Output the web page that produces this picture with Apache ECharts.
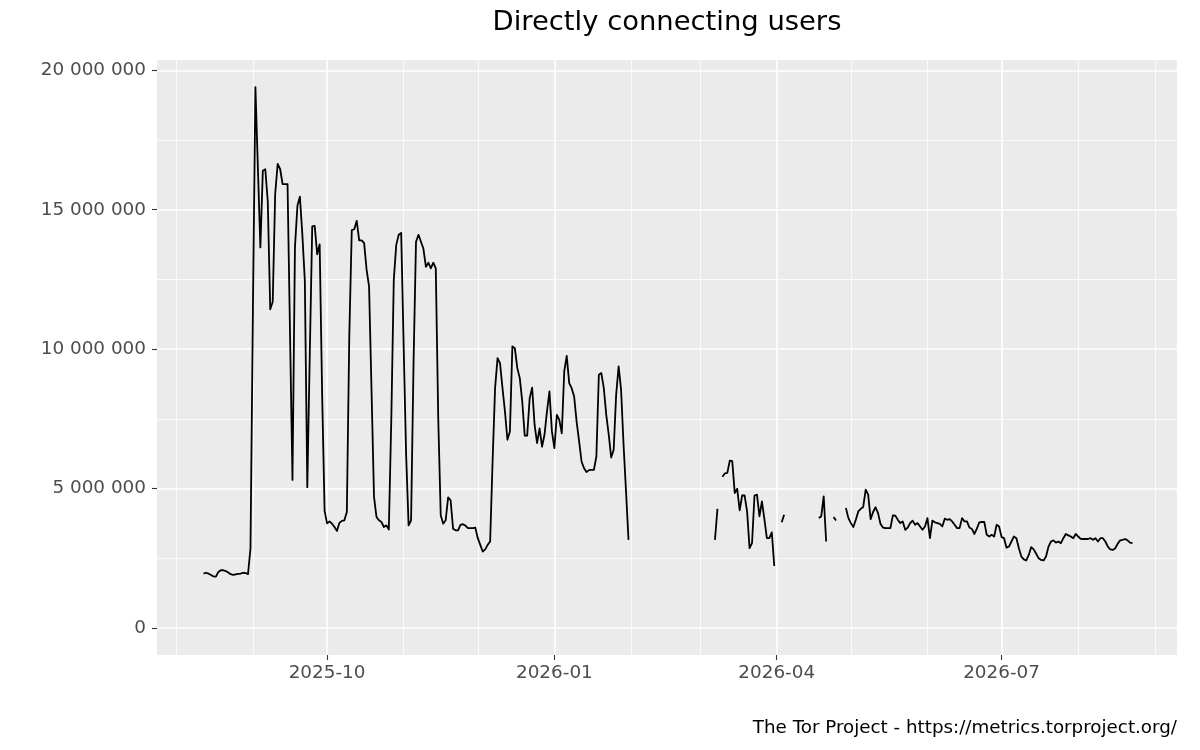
<!DOCTYPE html>
<html lang="en">
<head>
  <meta charset="UTF-8">
  <title>Directly connecting users</title>
  <style>
    html, body { margin: 0; padding: 0; background: #fff; }
    #main { width: 1200px; height: 750px; }
  </style>
</head>
<body>
  <div id="main"></div>
  <script src="https://cdn.jsdelivr.net/npm/echarts@6.0.0/dist/echarts.min.js"></script>
  <script>
    // daily users, in millions, one array per month (null = no data)
    const aug2025 = [1.95, 1.98, 1.95, 1.9, 1.85, 1.84, 2.01, 2.07, 2.07, 2.04, 1.99, 1.93, 1.9, 1.92, 1.94, 1.95, 1.98, 1.97, 1.93, 2.85]; // from the 12th
    const sep2025 = [11.5, 19.4, 16.5, 13.65, 16.4, 16.45, 15.3, 11.43, 11.7, 15.56, 16.64, 16.46, 15.92, 15.92, 15.92, 10.6, 5.31, 13.65, 15.14, 15.47,
                     14.1, 12.45, 5.05, 9.8, 14.4, 14.42, 13.4, 13.76, 8.4, 4.2];
    const oct2025 = [3.75, 3.82, 3.74, 3.62, 3.48, 3.77, 3.84, 3.86, 4.16, 10.5, 14.27, 14.3, 14.6, 13.9, 13.9, 13.8, 12.85, 12.24, 8.5, 4.7,
                     3.98, 3.86, 3.8, 3.62, 3.68, 3.53, 7.5, 12.48, 13.74, 14.1, 14.17];
    const nov2025 = [10.1, 6.2, 3.68, 3.86, 9.5, 13.85, 14.1, 13.85, 13.6, 12.95, 13.1, 12.9, 13.1, 12.9, 7.5, 4.04, 3.74, 3.86, 4.68, 4.58,
                     3.56, 3.5, 3.5, 3.7, 3.72, 3.67, 3.58, 3.58, 3.58, 3.6];
    const dec2025 = [3.22, 2.98, 2.74, 2.82, 2.98, 3.1, 6.0, 8.6, 9.68, 9.5, 8.6, 7.76, 6.75, 7.05, 10.1, 10.03, 9.32, 8.96, 8.12, 6.9,
                     6.9, 8.24, 8.62, 7.28, 6.63, 7.16, 6.5, 6.93, 7.76, 8.48, 7.05];
    const jan2026 = [6.45, 7.64, 7.46, 6.98, 9.2, 9.76, 8.78, 8.6, 8.3, 7.4, 6.7, 5.97, 5.73, 5.59, 5.66, 5.67, 5.67, 6.15, 9.08, 9.14,
                     8.6, 7.64, 6.93, 6.11, 6.39, 8.36, 9.38, 8.54, 6.57, 4.9, 3.16];
    const feb2026 = [null, null, null, null, null, null, null, null, null, null, null, null, null, null, null, null, null, null, null, null,
                     null, null, null, null, null, null, null, null];
    const mar2026 = [null, null, null, null, null, null, 3.16, 4.27, null, 5.42, 5.54, 5.56, 6.0, 5.98, 4.84, 4.99, 4.22, 4.75, 4.75, 4.18,
                     2.86, 3.04, 4.75, 4.78, 4.0, 4.54, 3.9, 3.22, 3.22, 3.43, 2.22];
    const apr2026 = [null, null, 3.79, 4.06, null, null, null, null, null, null, null, null, null, null, null, null, null, 3.94, 4.0, 4.72,
                     3.1, null, null, 3.98, 3.85, null, null, null, 4.3, 3.94];
    const may2026 = [3.76, 3.62, 3.88, 4.18, 4.27, 4.34, 4.96, 4.78, 3.9, 4.16, 4.33, 4.12, 3.73, 3.6, 3.58, 3.58, 3.58, 4.04, 4.03, 3.88,
                     3.76, 3.82, 3.52, 3.6, 3.76, 3.85, 3.7, 3.76, 3.64, 3.52, 3.64];
    const jun2026 = [3.94, 3.22, 3.85, 3.79, 3.76, 3.73, 3.64, 3.92, 3.88, 3.9, 3.82, 3.7, 3.58, 3.58, 3.94, 3.82, 3.82, 3.6, 3.55, 3.37,
                     3.56, 3.79, 3.8, 3.8, 3.34, 3.28, 3.34, 3.28, 3.7, 3.64];
    const jul2026 = [3.26, 3.22, 2.88, 2.92, 3.1, 3.28, 3.22, 2.86, 2.56, 2.46, 2.42, 2.62, 2.9, 2.82, 2.66, 2.5, 2.44, 2.42, 2.56, 2.92,
                     3.1, 3.14, 3.06, 3.1, 3.04, 3.22, 3.37, 3.32, 3.28, 3.22, 3.37];
    const aug2026 = [3.28, 3.2, 3.19, 3.19, 3.19, 3.22, 3.16, 3.22, 3.1, 3.22, 3.22, 3.1, 2.92, 2.82, 2.8, 2.86, 3.02, 3.14, 3.16, 3.19,
                     3.14, 3.06, 3.04];

    const users = [].concat(aug2025, sep2025, oct2025, nov2025, dec2025, jan2026, feb2026,
                            mar2026, apr2026, may2026, jun2026, jul2026, aug2026);

    // axis breaks
    const xLabelMonths = ['2025-10', '2026-01', '2026-04', '2026-07'];
    const xMinorMonths = ['2025-08', '2025-09', '2025-11', '2025-12', '2026-02', '2026-03',
                          '2026-05', '2026-06', '2026-08', '2026-09'];
    const yMajor = [0, 5000000, 10000000, 15000000, 20000000];
    const yMinor = [2500000, 7500000, 12500000, 17500000];

    function monthTs(s) {
      const p = s.split('-');
      return new Date(+p[0], +p[1] - 1, 1).getTime();
    }

    const seriesData = users.map(function (v, i) {
      return [new Date(2025, 7, 12 + i).getTime(), v == null ? null : Math.round(v * 1000000)];
    });

    const gridLines = []
      .concat(yMinor.map(v => ({ yAxis: v, lineStyle: { color: '#fff', width: 0.8, type: 'solid' } })))
      .concat(yMajor.map(v => ({ yAxis: v, lineStyle: { color: '#fff', width: 1.6, type: 'solid' } })))
      .concat(xMinorMonths.map(m => ({ xAxis: monthTs(m), lineStyle: { color: '#fff', width: 0.8, type: 'solid' } })))
      .concat(xLabelMonths.map(m => ({ xAxis: monthTs(m), lineStyle: { color: '#fff', width: 1.6, type: 'solid' } })));

    const font = 'DejaVu Sans';
    const chart = echarts.init(document.getElementById('main'));
    chart.setOption({
      animation: false,
      grid: {
        left: 157, right: 23, top: 60, bottom: 95,
        show: true, backgroundColor: '#EBEBEB', borderWidth: 0
      },
      xAxis: {
        type: 'value',
        min: new Date(2025, 6, 24, 4).getTime(),
        max: new Date(2026, 8, 10, 0).getTime(),
        axisLine: { show: false, onZero: false },
        splitLine: { show: false },
        axisTick: {
          show: true, length: 5, customValues: xLabelMonths.map(monthTs),
          lineStyle: { color: '#333333', width: 1.1 }
        },
        axisLabel: {
          customValues: xLabelMonths.map(monthTs),
          margin: 9, color: '#4D4D4D', fontSize: 18.4, fontFamily: font,
          formatter: function (v) {
            const d = new Date(v);
            const m = d.getMonth() + 1;
            return d.getFullYear() + '-' + (m < 10 ? '0' + m : m);
          }
        }
      },
      yAxis: {
        type: 'value',
        min: -970000,
        max: 20370000,
        axisLine: { show: false, onZero: false },
        splitLine: { show: false },
        axisTick: {
          show: true, length: 5, customValues: yMajor,
          lineStyle: { color: '#333333', width: 1.1 }
        },
        axisLabel: {
          customValues: yMajor,
          margin: 11, color: '#4D4D4D', fontSize: 18.4, fontFamily: font,
          formatter: function (v) {
            return String(v).replace(/\B(?=(\d{3})+(?!\d))/g, ' ');
          }
        }
      },
      graphic: [
        {
          type: 'text', x: 667, y: 23,
          style: {
            text: 'Directly connecting users', fill: '#000',
            font: '27.4px "DejaVu Sans"', textAlign: 'center', textVerticalAlign: 'middle'
          }
        },
        {
          type: 'text', x: 1177, y: 728,
          style: {
            text: 'The Tor Project - https://metrics.torproject.org/', fill: '#000',
            font: '18.3px "DejaVu Sans"', textAlign: 'right', textVerticalAlign: 'middle'
          }
        }
      ],
      series: [
        {
          name: 'Directly connecting users',
          type: 'line',
          data: seriesData,
          showSymbol: false,
          connectNulls: false,
          z: 3,
          lineStyle: { color: '#000', width: 1.8, join: 'round' },
          markLine: {
            silent: true,
            symbol: ['none', 'none'],
            z: 1,
            animation: false,
            label: { show: false },
            emphasis: { disabled: true },
            data: gridLines
          }
        }
      ]
    });
  </script>
</body>
</html>
